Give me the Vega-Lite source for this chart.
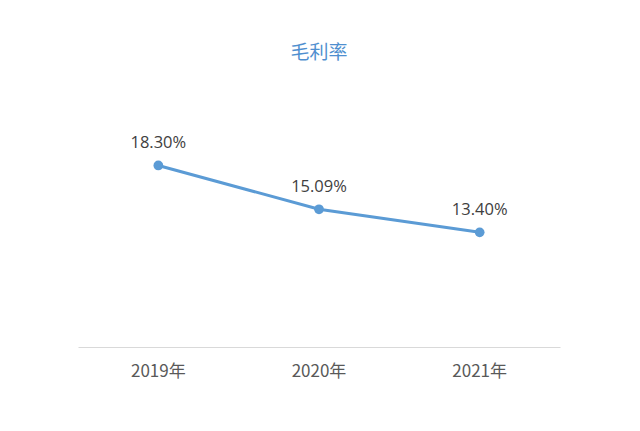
{
  "$schema": "https://vega.github.io/schema/vega-lite/v6.json",
  "width": 482,
  "height": 273,
  "autosize": {"type": "none"},
  "padding": {"left": 78, "top": 74, "right": 80, "bottom": 84},
  "background": "white",
  "config": {"view": {"stroke": null}, "font": "Noto Sans CJK SC"},
  "title": {
    "text": "毛利率",
    "color": "#4f8fcf",
    "fontSize": 19,
    "fontWeight": "normal",
    "font": "Noto Sans CJK SC",
    "anchor": "middle",
    "offset": 11
  },
  "data": {
    "values": [
      {"year": "2019年", "rate": 18.30, "label": "18.30%"},
      {"year": "2020年", "rate": 15.09, "label": "15.09%"},
      {"year": "2021年", "rate": 13.40, "label": "13.40%"}
    ]
  },
  "encoding": {
    "x": {
      "field": "year",
      "type": "nominal",
      "sort": null,
      "scale": {"type": "band", "paddingInner": 0, "paddingOuter": 0},
      "axis": {
        "title": null,
        "labelAngle": 0,
        "domainColor": "#d9d9d9",
        "domainWidth": 1,
        "ticks": false,
        "labelColor": "#595959",
        "labelFontSize": 17,
        "labelFont": "Noto Sans CJK SC",
        "labelPadding": 16
      }
    },
    "y": {
      "field": "rate",
      "type": "quantitative",
      "scale": {"domain": [5, 25], "nice": false, "zero": false},
      "axis": null
    }
  },
  "layer": [
    {
      "mark": {"type": "line", "color": "#5b9bd5", "strokeWidth": 3}
    },
    {
      "mark": {"type": "point", "filled": true, "color": "#5b9bd5", "size": 95, "opacity": 1}
    },
    {
      "mark": {"type": "text", "dy": -22, "fontSize": 16.5, "color": "#404040", "font": "Open Sans"},
      "encoding": {"text": {"field": "label"}}
    }
  ]
}
